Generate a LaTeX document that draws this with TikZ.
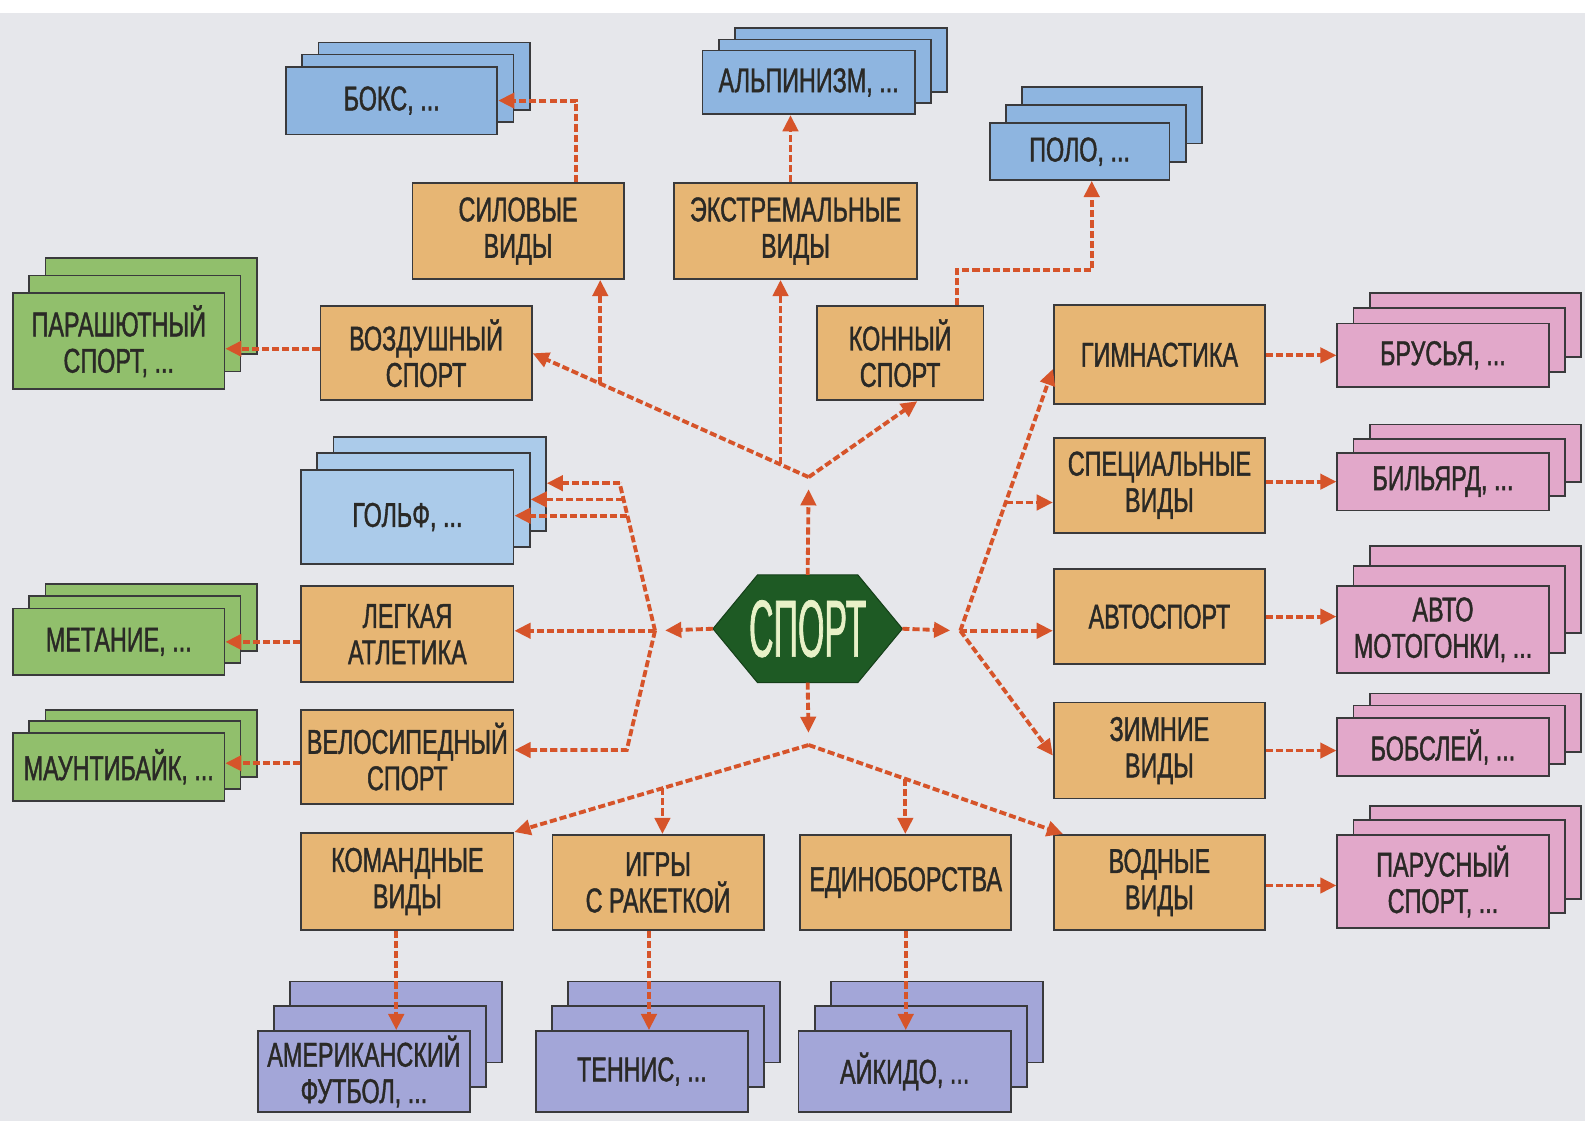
\documentclass[tikz,border=0pt]{standalone}
\usepackage{fontspec}
\setmainfont[FakeStretch=0.68,FakeBold=1.2]{Liberation Sans}
\newfontfamily\hexfont[FakeStretch=0.42,FakeBold=0.8]{Liberation Sans}
\usetikzlibrary{arrows.meta,calc}
\definecolor{bg}{HTML}{E6E7EB}
\definecolor{boxline}{HTML}{3A3A3C}
\definecolor{txt}{HTML}{2A2926}
\definecolor{orangebox}{HTML}{E7B674}
\definecolor{bluebox}{HTML}{8EB5E0}
\definecolor{lightblue}{HTML}{ABCBEA}
\definecolor{greenbox}{HTML}{91BF6C}
\definecolor{pinkbox}{HTML}{E2A8CA}
\definecolor{violetbox}{HTML}{A3A6D8}
\definecolor{arrowc}{HTML}{D6542A}
\definecolor{hexgreen}{HTML}{1E5A24}
\definecolor{hextext}{HTML}{E8F1C8}
\tikzset{
  box/.style={draw=boxline, line width=1.8pt, align=center, inner sep=0pt,
    font=\fontsize{34}{36}\selectfont, text=txt},
  ob/.style={box, fill=orangebox, minimum width=209pt, minimum height=95pt},
  con/.style={draw=arrowc, line width=3.8pt, dash pattern=on 7pt off 3pt,
    -{Triangle[length=16pt,width=15pt]}},
  conl/.style={draw=arrowc, line width=3.8pt, dash pattern=on 7pt off 3pt},
}
\newcommand\stk[8]{%
  \node[box,fill=#7,minimum width=#4pt,minimum height=#5pt] (#1b) at (#2+32,#3-2*#6) {};
  \node[box,fill=#7,minimum width=#4pt,minimum height=#5pt] (#1m) at (#2+16,#3-#6) {};
  \node[box,fill=#7,minimum width=#4pt,minimum height=#5pt] (#1) at (#2,#3) {#8};}
\begin{document}
\begin{tikzpicture}[x=1pt,y=-1pt]
\useasboundingbox (0,0) rectangle (1568,1109);
\fill[bg] (0,0) rectangle (1568,1109);
\fill[white] (0,0) rectangle (1568,13);

% orange category boxes
\node[ob] (sil) at (512.5,228.5) {СИЛОВЫЕ\\ВИДЫ};
\node[ob,minimum width=240pt] (ext) at (787,228.5) {ЭКСТРЕМАЛЬНЫЕ\\ВИДЫ};
\node[ob,minimum height=93pt] (voz) at (421.5,349.5) {ВОЗДУШНЫЙ\\СПОРТ};
\node[ob,minimum width=165pt,minimum height=93pt] (kon) at (890.5,349.5) {КОННЫЙ\\СПОРТ};
\node[ob,minimum height=98pt] (gim) at (1147,351) {ГИМНАСТИКА};
\node[ob,minimum height=94pt] (spe) at (1147,480) {СПЕЦИАЛЬНЫЕ\\ВИДЫ};
\node[ob,minimum height=94pt] (avt) at (1147,610) {АВТОСПОРТ};
\node[ob] (zim) at (1147,742.5) {ЗИМНИЕ\\ВИДЫ};
\node[ob,minimum height=94pt] (vod) at (1147,873) {ВОДНЫЕ\\ВИДЫ};
\node[ob,minimum width=210pt] (leg) at (403,627.5) {ЛЕГКАЯ\\АТЛЕТИКА};
\node[ob,minimum width=210pt,minimum height=93pt] (vel) at (403,748.5) {ВЕЛОСИПЕДНЫЙ\\СПОРТ};
\node[ob,minimum width=210pt,minimum height=96pt] (kom) at (403,872) {КОМАНДНЫЕ\\ВИДЫ};
\node[ob,minimum height=94pt] (igr) at (651,873) {ИГРЫ\\С РАКЕТКОЙ};
\node[ob,minimum height=94pt] (edi) at (896,873) {ЕДИНОБОРСТВА};

% stacked example boxes
\stk{boks}{387.5}{99.5}{209}{67}{12}{bluebox}{БОКС, ...}
\stk{alp}{800}{81.5}{210}{63}{11}{bluebox}{АЛЬПИНИЗМ, ...}
\stk{polo}{1068}{150}{178}{56}{18}{bluebox}{ПОЛО, ...}
\stk{par}{117.5}{337.5}{209}{95}{17.5}{greenbox}{ПАРАШЮТНЫЙ\\СПОРТ, ...}
\stk{golf}{403}{511.5}{210}{93}{16.5}{lightblue}{ГОЛЬФ, ...}
\stk{met}{117.5}{635}{209}{66}{12}{greenbox}{МЕТАНИЕ, ...}
\stk{mau}{117.5}{758.5}{209}{67}{11.5}{greenbox}{МАУНТИБАЙК, ...}
\stk{bru}{1427.5}{351.5}{209}{63}{15}{pinkbox}{БРУСЬЯ, ...}
\stk{bil}{1427.5}{476.5}{209}{57}{14}{pinkbox}{БИЛЬЯРД, ...}
\stk{amg}{1427.5}{623}{209}{86}{20}{pinkbox}{АВТО\\МОТОГОНКИ, ...}
\stk{bob}{1427.5}{739}{209}{58}{12}{pinkbox}{БОБСЛЕЙ, ...}
\stk{parus}{1427.5}{872}{209}{92}{14.5}{pinkbox}{ПАРУСНЫЙ\\СПОРТ, ...}
\stk{amf}{360}{1060}{210}{80}{24.5}{violetbox}{АМЕРИКАНСКИЙ\\ФУТБОЛ, ...}
\stk{ten}{635}{1060}{210}{80}{24.5}{violetbox}{ТЕННИС, ...}
\stk{aik}{895}{1060}{210}{80}{24.5}{violetbox}{АЙКИДО, ...}

% central hexagon
\node[minimum width=187pt,minimum height=106pt,inner sep=0pt] (hex) at (799,622) {};
\filldraw[fill=hexgreen,draw=hexgreen!70!black,line width=1pt]
  (hex.west) -- ([xshift=44pt]hex.north west) -- ([xshift=-44pt]hex.north east)
  -- (hex.east) -- ([xshift=-44pt]hex.south east) -- ([xshift=44pt]hex.south west) -- cycle;
\node[text=hextext,font=\hexfont\fontsize{80}{80}\selectfont,inner sep=0pt] (hext) at (hex.center) {СПОРТ};

% hubs
\coordinate (ht) at (800,472);
\coordinate (hl) at (648,624);
\coordinate (hb) at (800,737);
\coordinate (hr) at (950,624);

% top hub
\draw[con,shorten >=12pt] (hex.north) -- (ht);
\draw[con] (ht) -- (voz.east);
\draw[con] (ht) -- ([xshift=17pt]kon.south);
\draw[con] ($(ht)!0.755!(voz.east)$) coordinate (s1) -- (s1 |- sil.south);
\draw[con] ($(ht)!0.102!(voz.east)$) coordinate (s2) -- (s2 |- ext.south);
\draw[con] ([xshift=57.5pt]sil.north) |- (boks.east);
\draw[con] ([xshift=-5pt]ext.north) -- ([xshift=-5pt]ext.north |- alp.south);
\draw[con] ([xshift=56.5pt]kon.north) -- ++(0,-35) -| ([xshift=12pt]polo.south);
\draw[con] (voz.west |- 0,345) -- (par.east |- 0,345);

% left hub
\draw[con,shorten >=10pt] (hex.west) -- (hl);
\draw[con] (hl) -- (hl -| leg.east);
\coordinate (gt) at (613,478);
\draw[conl] (hl) -- (gt);
\draw[con] (gt) -- (gt -| golfb.east);
\draw[con] ($(hl)!0.89!(gt)$) coordinate (g2) -- (g2 -| golfm.east);
\draw[con] ($(hl)!0.78!(gt)$) coordinate (g3) -- (g3 -| golf.east);
\coordinate (vl) at (620,742);
\draw[con] (hl) -- (vl) -- (vl -| vel.east);
\draw[con] (leg.west |- met.east) -- (met.east);
\draw[con] (vel.west |- 0,755) -- (mau.east |- 0,755);

% bottom hub
\draw[con,shorten >=12pt] (hex.south) -- (hb);
\draw[con] (hb) -- (kom.north east);
\draw[con] (hb) -- ([xshift=10pt]vod.north west);
\draw[con] ($(hb)!0.497!(kom.north east)$) coordinate (b1) -- (b1 |- igr.north);
\draw[con] ($(hb)!0.38!([xshift=10pt]vod.north west)$) coordinate (b2) -- (b2 |- edi.north);
\draw[con] ([xshift=-11pt]kom.south) -- ([xshift=-11pt]kom.south |- amf.north);
\draw[con] ([xshift=-9pt]igr.south) -- ([xshift=-9pt]igr.south |- ten.north);
\draw[con] (edi.south) -- (edi.south |- aik.north);

% right hub
\draw[con,shorten >=10pt] (hex.east) -- (hr);
\coordinate (gp) at ([yshift=-14pt]gim.west);
\draw[con] (hr) -- (gp);
\draw[con] ($(hr)!0.49!(gp)$) coordinate (r1) -- (r1 -| spe.west);
\draw[con] (hr) -- (hr -| avt.west);
\draw[con] (hr) -- ([yshift=-5pt]zim.west);
\draw[con] (gim.east |- bru.west) -- (bru.west);
\draw[con] (spe.east |- bil.west) -- (bil.west);
\draw[con] (avt.east) -- (avt.east -| amg.west);
\draw[con] (zim.east) -- (zim.east -| bob.west);
\draw[con] (vod.east |- 0,876) -- (parus.west |- 0,876);
\end{tikzpicture}
\end{document}
